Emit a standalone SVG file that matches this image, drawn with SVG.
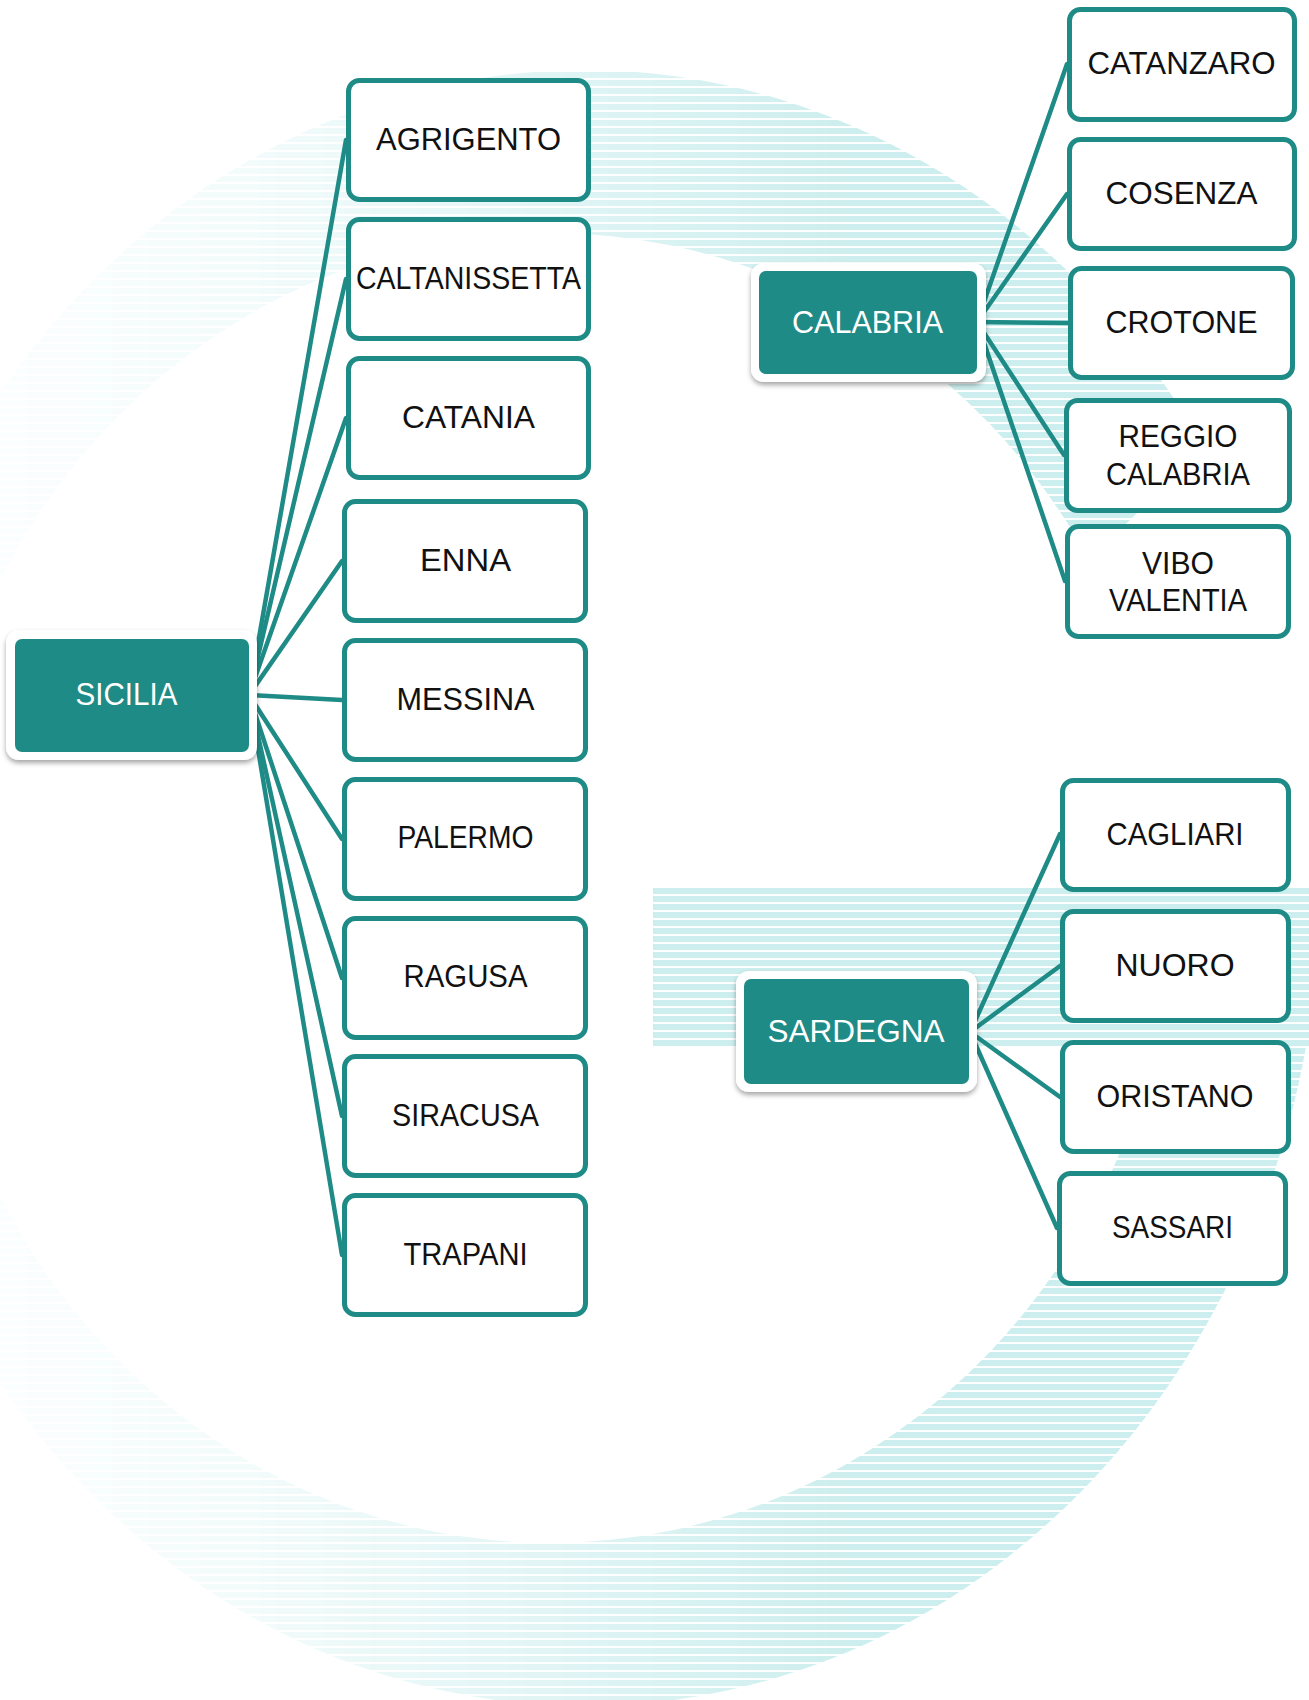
<svg xmlns="http://www.w3.org/2000/svg" width="1309" height="1700" viewBox="0 0 1309 1700">
  <defs>
    <pattern id="stripes" patternUnits="userSpaceOnUse" width="16" height="8">
      <rect x="0" y="0" width="16" height="6" fill="#cdeeee"/>
    </pattern>
    <linearGradient id="fadeGrad" gradientUnits="userSpaceOnUse" x1="0" y1="0" x2="1309" y2="0">
      <stop offset="0" stop-color="#fff" stop-opacity="0.07"/>
      <stop offset="0.2" stop-color="#fff" stop-opacity="0.25"/>
      <stop offset="0.45" stop-color="#fff" stop-opacity="0.65"/>
      <stop offset="0.65" stop-color="#fff" stop-opacity="1"/>
    </linearGradient>
    <mask id="ringMask" maskUnits="userSpaceOnUse" x="0" y="0" width="1309" height="1700">
      <rect x="0" y="0" width="1309" height="1700" fill="url(#fadeGrad)"/>
      <polygon points="1000,887 1000,650 1090,560 1400,250 1400,887" fill="#000"/>
    </mask>
    <filter id="shadow" x="-10%" y="-20%" width="120%" height="150%">
      <feDropShadow dx="0" dy="3" stdDeviation="2.5" flood-color="#000" flood-opacity="0.35"/>
    </filter>
    <style>
      .box { fill: #ffffff; stroke: #1f8b86; stroke-width: 5; }
      .frame { fill: #ffffff; filter: url(#shadow); }
      .head { fill: #1f8b86; }
      .lbl { font-family: "Liberation Sans", Arial, sans-serif; font-size: 32px; fill: #111111; text-anchor: middle; }
      .hlbl { font-family: "Liberation Sans", Arial, sans-serif; font-size: 32px; fill: #ffffff; text-anchor: middle; }
      .conn { stroke: #1f8b86; stroke-width: 4.5; fill: none; stroke-linecap: round; }
    </style>
  </defs>

  <rect x="0" y="0" width="1309" height="1700" fill="#ffffff"/>

  <g id="background">
    <path d="M -150 888 a 735 818 0 1 0 1470 0 a 735 818 0 1 0 -1470 0 Z M -73 888 a 623 655 0 1 0 1246 0 a 623 655 0 1 0 -1246 0 Z" fill="url(#stripes)" fill-rule="evenodd" mask="url(#ringMask)"/>
    <rect x="653" y="887" width="656" height="160" fill="url(#stripes)"/>
  </g>

  <g id="connectors">
    <line class="conn" x1="249" y1="695" x2="346" y2="140"/>
    <line class="conn" x1="249" y1="695" x2="346" y2="279"/>
    <line class="conn" x1="249" y1="695" x2="346" y2="418"/>
    <line class="conn" x1="249" y1="695" x2="342" y2="561"/>
    <line class="conn" x1="249" y1="695" x2="342" y2="700"/>
    <line class="conn" x1="249" y1="695" x2="342" y2="839"/>
    <line class="conn" x1="249" y1="695" x2="342" y2="978"/>
    <line class="conn" x1="249" y1="695" x2="342" y2="1116"/>
    <line class="conn" x1="249" y1="695" x2="342" y2="1255"/>

    <line class="conn" x1="977" y1="322" x2="1067" y2="64"/>
    <line class="conn" x1="977" y1="322" x2="1067" y2="194"/>
    <line class="conn" x1="977" y1="322" x2="1068" y2="323"/>
    <line class="conn" x1="977" y1="322" x2="1064" y2="455"/>
    <line class="conn" x1="977" y1="322" x2="1065" y2="581"/>

    <line class="conn" x1="970" y1="1032" x2="1060" y2="834"/>
    <line class="conn" x1="970" y1="1032" x2="1060" y2="966"/>
    <line class="conn" x1="970" y1="1032" x2="1060" y2="1097"/>
    <line class="conn" x1="970" y1="1032" x2="1057" y2="1228"/>
  </g>

  <!-- Parent nodes -->
  <g id="sicilia">
    <rect class="frame" x="6" y="630" width="251" height="130" rx="13"/>
    <rect class="head" x="15" y="639" width="234" height="113" rx="7"/>
    <text class="hlbl" x="126.5" y="705" textLength="102" lengthAdjust="spacingAndGlyphs">SICILIA</text>
  </g>
  <g id="calabria">
    <rect class="frame" x="751" y="263" width="235" height="119" rx="13"/>
    <rect class="head" x="759" y="271" width="218" height="103" rx="7"/>
    <text class="hlbl" x="867.5" y="333" textLength="151" lengthAdjust="spacingAndGlyphs">CALABRIA</text>
  </g>
  <g id="sardegna">
    <rect class="frame" x="736" y="971" width="241" height="121" rx="13"/>
    <rect class="head" x="744" y="979" width="225" height="105" rx="7"/>
    <text class="hlbl" x="856" y="1042" textLength="177" lengthAdjust="spacingAndGlyphs">SARDEGNA</text>
  </g>

  <!-- Sicilia children -->
  <g id="agrigento">
    <rect class="box" x="348.5" y="80.5" width="240" height="119" rx="11"/>
    <text class="lbl" x="468.5" y="150" textLength="185" lengthAdjust="spacingAndGlyphs">AGRIGENTO</text>
  </g>
  <g id="caltanissetta">
    <rect class="box" x="348.5" y="219.5" width="240" height="119" rx="11"/>
    <text class="lbl" x="468.5" y="289" textLength="225" lengthAdjust="spacingAndGlyphs">CALTANISSETTA</text>
  </g>
  <g id="catania">
    <rect class="box" x="348.5" y="358.5" width="240" height="119" rx="11"/>
    <text class="lbl" x="468.5" y="428" textLength="133" lengthAdjust="spacingAndGlyphs">CATANIA</text>
  </g>
  <g id="enna">
    <rect class="box" x="344.5" y="501.5" width="241" height="119" rx="11"/>
    <text class="lbl" x="465.5" y="571" textLength="91" lengthAdjust="spacingAndGlyphs">ENNA</text>
  </g>
  <g id="messina">
    <rect class="box" x="344.5" y="640.5" width="241" height="119" rx="11"/>
    <text class="lbl" x="465.5" y="710" textLength="138" lengthAdjust="spacingAndGlyphs">MESSINA</text>
  </g>
  <g id="palermo">
    <rect class="box" x="344.5" y="779.5" width="241" height="119" rx="11"/>
    <text class="lbl" x="465.5" y="848" textLength="136" lengthAdjust="spacingAndGlyphs">PALERMO</text>
  </g>
  <g id="ragusa">
    <rect class="box" x="344.5" y="918.5" width="241" height="119" rx="11"/>
    <text class="lbl" x="465.5" y="987" textLength="124" lengthAdjust="spacingAndGlyphs">RAGUSA</text>
  </g>
  <g id="siracusa">
    <rect class="box" x="344.5" y="1056.5" width="241" height="119" rx="11"/>
    <text class="lbl" x="465.5" y="1126" textLength="147" lengthAdjust="spacingAndGlyphs">SIRACUSA</text>
  </g>
  <g id="trapani">
    <rect class="box" x="344.5" y="1195.5" width="241" height="119" rx="11"/>
    <text class="lbl" x="465.5" y="1265" textLength="124" lengthAdjust="spacingAndGlyphs">TRAPANI</text>
  </g>

  <!-- Calabria children -->
  <g id="catanzaro">
    <rect class="box" x="1069.5" y="9.5" width="225" height="110" rx="11"/>
    <text class="lbl" x="1181.5" y="74" textLength="188" lengthAdjust="spacingAndGlyphs">CATANZARO</text>
  </g>
  <g id="cosenza">
    <rect class="box" x="1069.5" y="139.5" width="225" height="109" rx="11"/>
    <text class="lbl" x="1181.5" y="204" textLength="152" lengthAdjust="spacingAndGlyphs">COSENZA</text>
  </g>
  <g id="crotone">
    <rect class="box" x="1070.5" y="268.5" width="222" height="109" rx="11"/>
    <text class="lbl" x="1181.5" y="333" textLength="152" lengthAdjust="spacingAndGlyphs">CROTONE</text>
  </g>
  <g id="reggio-calabria">
    <rect class="box" x="1066.5" y="400.5" width="223" height="110" rx="11"/>
    <text class="lbl" x="1178" y="447" textLength="119" lengthAdjust="spacingAndGlyphs">REGGIO</text>
    <text class="lbl" x="1178" y="485" textLength="144" lengthAdjust="spacingAndGlyphs">CALABRIA</text>
  </g>
  <g id="vibo-valentia">
    <rect class="box" x="1067.5" y="526.5" width="221" height="110" rx="11"/>
    <text class="lbl" x="1178" y="574" textLength="72" lengthAdjust="spacingAndGlyphs">VIBO</text>
    <text class="lbl" x="1178" y="611" textLength="138" lengthAdjust="spacingAndGlyphs">VALENTIA</text>
  </g>

  <!-- Sardegna children -->
  <g id="cagliari">
    <rect class="box" x="1062.5" y="780.5" width="226" height="109" rx="11"/>
    <text class="lbl" x="1175" y="845" textLength="137" lengthAdjust="spacingAndGlyphs">CAGLIARI</text>
  </g>
  <g id="nuoro">
    <rect class="box" x="1062.5" y="911.5" width="226" height="109" rx="11"/>
    <text class="lbl" x="1175" y="976" textLength="119" lengthAdjust="spacingAndGlyphs">NUORO</text>
  </g>
  <g id="oristano">
    <rect class="box" x="1062.5" y="1042.5" width="226" height="109" rx="11"/>
    <text class="lbl" x="1175" y="1107" textLength="157" lengthAdjust="spacingAndGlyphs">ORISTANO</text>
  </g>
  <g id="sassari">
    <rect class="box" x="1059.5" y="1173.5" width="226" height="110" rx="11"/>
    <text class="lbl" x="1172.5" y="1238" textLength="121" lengthAdjust="spacingAndGlyphs">SASSARI</text>
  </g>
</svg>
